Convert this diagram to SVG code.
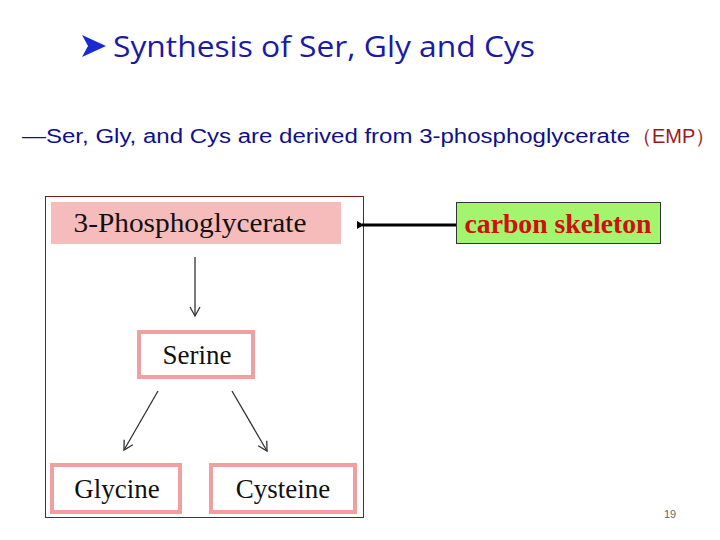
<svg xmlns="http://www.w3.org/2000/svg" width="720" height="540" viewBox="0 0 720 540">
<style>
.n{fill:#fff;stroke:#f0a0a0;stroke-width:4}
.t{font-family:"Liberation Serif",serif;font-size:27px;fill:#111;text-anchor:middle}
.c{stroke:#333;stroke-width:1.3;fill:none}
</style>
<defs><marker id="a" markerWidth="12" markerHeight="12" refX="10" refY="6" orient="auto" markerUnits="userSpaceOnUse"><path d="M1,1 L10,6 L1,11" fill="none" stroke="#333" stroke-width="1.3"/></marker>
<marker id="b" markerWidth="10" markerHeight="10" refX="2" refY="5" orient="auto" markerUnits="userSpaceOnUse"><path d="M0,5 L7,1 L7,9 Z" fill="#000"/></marker></defs>
<rect width="720" height="540" fill="#fff"/>
<path d="M82,35 L106,46 L82,57 L88,46 Z" fill="#1a2ad0"/>
<text x="113" y="57" font-family="Open Sans,sans-serif" font-size="29" fill="#1a1aa8" textLength="422" lengthAdjust="spacingAndGlyphs">Synthesis of  Ser, Gly and Cys</text>
<text x="22" y="143" font-family="Liberation Sans,sans-serif" font-size="20" fill="#10108a" textLength="608" lengthAdjust="spacingAndGlyphs">—Ser, Gly, and Cys are derived from 3-phosphoglycerate</text>
<text x="632" y="143" font-family="Liberation Sans,sans-serif" font-size="20" fill="#a01818">（EMP）</text>
<rect x="45.5" y="196.5" width="318" height="321" fill="none" stroke="#7a1a1a" stroke-width="1"/>
<g id="n1"><rect x="51" y="202" width="290" height="42" fill="#f6bcbc"/><text class="t" x="190" y="232" textLength="233" lengthAdjust="spacingAndGlyphs">3-Phosphoglycerate</text></g>
<g id="n2"><rect class="n" x="139" y="332" width="114" height="45"/><text class="t" x="197" y="364">Serine</text></g>
<g id="n3"><rect class="n" x="52" y="465" width="128" height="47"/><text class="t" x="117" y="498">Glycine</text></g>
<g id="n4"><rect class="n" x="211" y="465" width="144" height="47"/><text class="t" x="283" y="498">Cysteine</text></g>
<g id="n5"><rect x="456.5" y="202.5" width="204" height="41" fill="#a2f56c" stroke="#333"/><text x="558" y="233" font-family="Liberation Serif,serif" font-size="27" font-weight="bold" fill="#d01010" text-anchor="middle" textLength="187" lengthAdjust="spacingAndGlyphs">carbon skeleton</text></g>
<g id="connectors">
<line class="c" x1="195" y1="257" x2="195" y2="316" marker-end="url(#a)"/>
<line class="c" x1="158" y1="391" x2="124" y2="450" marker-end="url(#a)"/>
<line class="c" x1="232" y1="391" x2="267" y2="451" marker-end="url(#a)"/>
<line x1="456" y1="225" x2="362" y2="225" stroke="#000" stroke-width="3" marker-end="url(#b)"/>
</g>
<text x="670" y="518" font-family="Liberation Sans,sans-serif" font-size="11" fill="#666" text-anchor="middle">19</text>
</svg>
